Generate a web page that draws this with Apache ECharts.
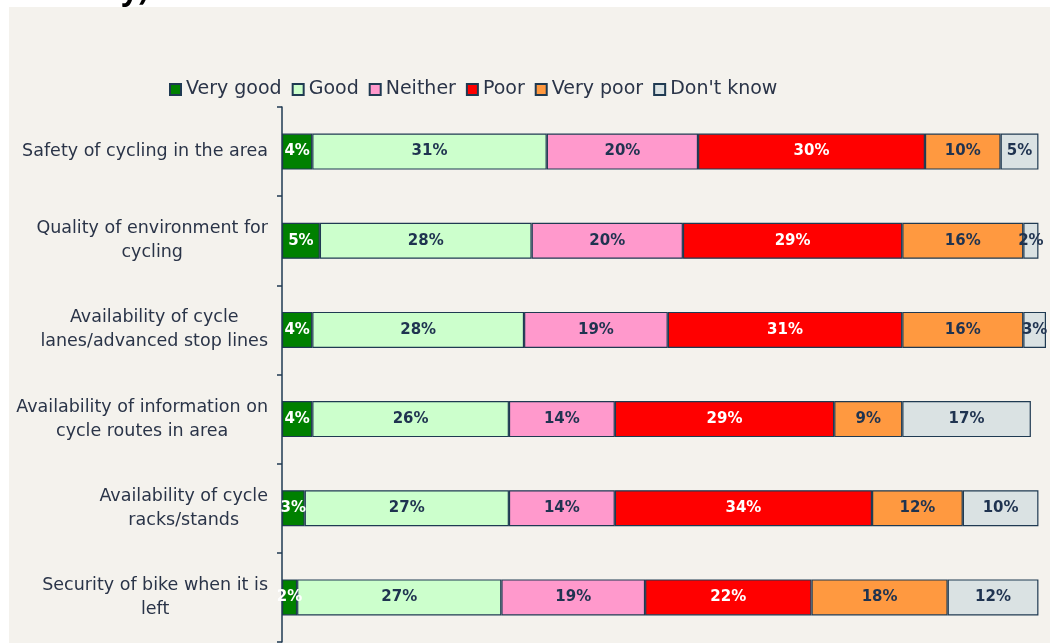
<!DOCTYPE html>
<html>
<head>
<meta charset="utf-8">
<script src="https://cdn.jsdelivr.net/npm/echarts@6/dist/echarts.min.js"></script>
<style>
  html, body { margin: 0; padding: 0; background: #fff; }
  #chart { width: 1050px; height: 643px; }
</style>
</head>
<body>
<div id="chart"></div>
<script>
// rows, top to bottom
const categories = [
    'Safety of cycling in the area',
    'Quality of environment for\ncycling',
    'Availability of cycle\nlanes/advanced stop lines',
    'Availability of information on\ncycle routes in area',
    'Availability of cycle\nracks/stands',
    'Security of bike when it is\nleft'
];
const seriesNames = ['Very good', 'Good', 'Neither', 'Poor', 'Very poor', "Don't know"];
const veryGood = [4, 5, 4, 4, 3, 2];
const good     = [31, 28, 28, 26, 27, 27];
const neither  = [20, 20, 19, 14, 14, 19];
const poor     = [30, 29, 31, 29, 34, 22];
const veryPoor = [10, 16, 16, 9, 12, 18];
const dontKnow = [5, 2, 3, 17, 10, 12];

const colors = ['#008000', '#ccffcc', '#ff99cc', '#ff0000', '#ff9940', '#dae2e3'];
const labelColors = ['#ffffff', '#1f3350', '#1f3350', '#ffffff', '#1f3350', '#1f3350'];
const edge = '#1f3a52';
const font = 'DejaVu Sans';

const values = [veryGood, good, neither, poor, veryPoor, dontKnow];

const chart = echarts.init(document.getElementById('chart'));
chart.setOption({
    backgroundColor: '#ffffff',
    animation: false,
    graphic: [
        { type: 'rect', left: 9, top: 7, z: -10, shape: { width: 1041, height: 636 }, style: { fill: '#f4f2ed' } },
        { type: 'text', left: 60, top: -24, z: -5, style: { text: 'mary)', font: 'bold 30px "Open Sans"', fill: '#000' } }
    ],
    legend: {
        left: 164, top: 75,
        itemWidth: 11, itemHeight: 11, itemGap: 10,
        icon: 'rect',
        textStyle: { fontFamily: font, fontSize: 19, color: '#2a3448' },
        data: seriesNames
    },
    grid: { left: 282, right: 4, top: 107, bottom: 1, containLabel: false },
    xAxis: { type: 'value', min: 0, max: 101, show: false },
    yAxis: {
        type: 'category', inverse: true, data: categories,
        axisLine: { lineStyle: { color: edge, width: 1.5 } },
        axisTick: { show: true, length: 5, lineStyle: { color: edge, width: 1.5 } },
        axisLabel: {
            margin: 14, fontFamily: font, fontSize: 17.5, color: '#2a3448', lineHeight: 24,
            formatter: v => v.split('\n').map(s => '{c|' + s + '}').join('\n'),
            rich: { c: { align: 'center', fontFamily: font, fontSize: 17.5, color: '#2a3448', lineHeight: 24 } }
        }
    },
    series: seriesNames.map((name, i) => ({
        name, type: 'bar', stack: 'total', barWidth: 36,
        data: values[i],
        itemStyle: { color: colors[i], borderColor: edge, borderWidth: 1.2 },
        label: {
            show: true, position: 'inside', formatter: '{c}%',
            fontFamily: font, fontWeight: 'bold', fontSize: 15, color: labelColors[i]
        }
    }))
});
</script>
</body>
</html>
